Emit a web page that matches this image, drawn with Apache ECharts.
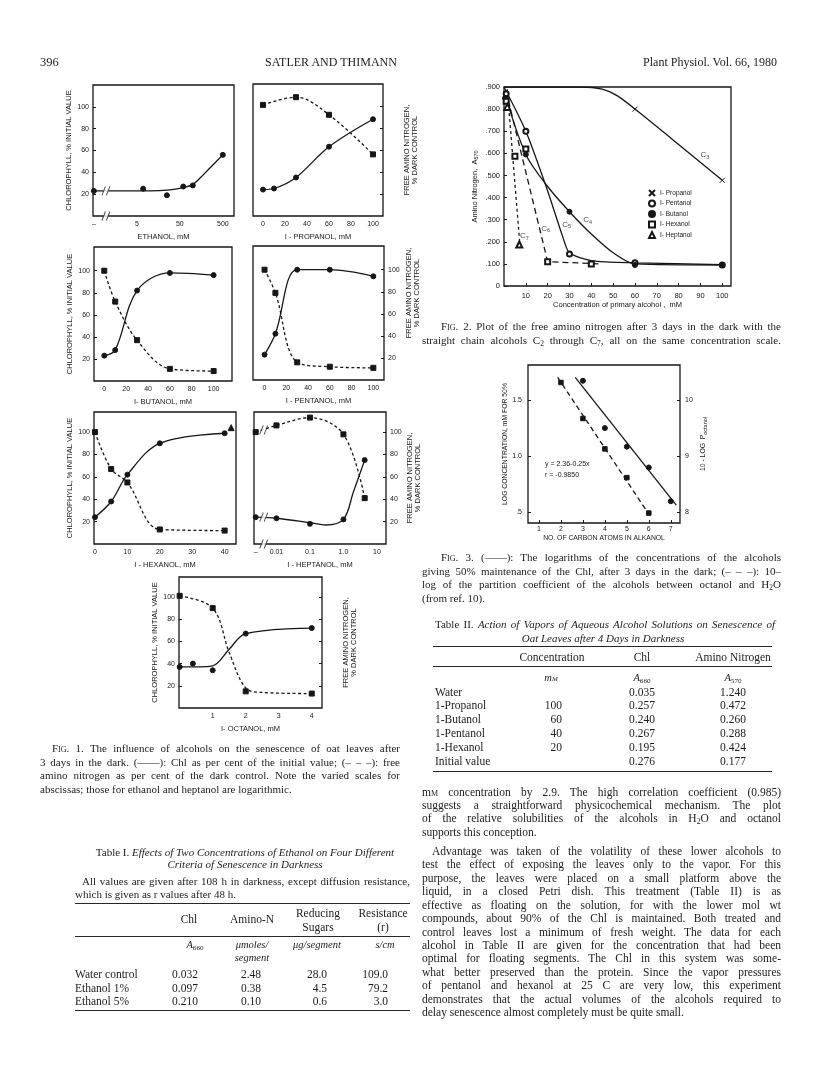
<!DOCTYPE html>
<html>
<head>
<meta charset="utf-8">
<script src="https://cdn.jsdelivr.net/npm/echarts@6.0.0/dist/echarts.min.js"></script>
<style>
html,body{margin:0;padding:0;background:#fff;}
#page{position:relative;width:816px;height:1073px;overflow:hidden;background:#fff;}
#chart{position:absolute;left:0;top:0;width:816px;height:1073px;}
.t{position:absolute;z-index:2;white-space:nowrap;font-family:"Liberation Serif","Times New Roman",Times,serif;color:#1b1b1b;line-height:16px;}
.t sub{font-size:68%;vertical-align:-2px;line-height:0;}
.sc{font-variant:small-caps;}
.rule{position:absolute;z-index:2;background:#262626;}
</style>
</head>
<body>
<div id="page"><div id="chart"></div></div>
<script>
// ================= DATA =================
// Fig. 1 — ethanol (log scale; 0 = control)
const ethanolTickConc = [0, 5, 50, 500];
const ethanolChlX = [0, 7, 25, 60, 100, 500];
const ethanolChlY = [23, 25, 19, 27, 28, 56];
const ethanolFitX = [0, 3, 10, 30, 60, 100, 150, 250, 500];
const ethanolFitY = [23, 23, 23, 24, 26, 29, 35, 44, 56];
// 1-propanol
const linTicks100 = [0, 20, 40, 60, 80, 100];
const propanolChlX = [0, 10, 30, 60, 100];
const propanolChlY = [24, 25, 35, 63, 88];
const propanolAmnX = [0, 30, 60, 100];
const propanolAmnY = [101, 108, 92, 56];
// 1-butanol
const butanolX = [0, 10, 30, 60, 100];
const butanolChlY = [23, 28, 82, 98, 96];
const butanolAmnY = [100, 72, 37, 11, 9];
// 1-pentanol
const pentanolX = [0, 10, 30, 60, 100];
const pentanolChlY = [23, 42, 100, 100, 94];
const pentanolAmnY = [100, 79, 16, 12, 11];
// 1-hexanol
const hexanolTicks = [0, 10, 20, 30, 40];
const hexanolX = [0, 5, 10, 20, 40];
const hexanolChlY = [24, 38, 62, 90, 99];
const hexanolAmnY = [100, 67, 55, 13, 12];
const hexanolTriX = [42];
const hexanolTriY = [104];
// 1-heptanol (log scale; 0 = control)
const heptanolTickConc = [0, 0.01, 0.1, 1, 10];
const heptanolTickText = ['–', '0.01', '0.1', '1.0', '10'];
const heptanolX = [0, 0.01, 0.1, 1, 4.3];
const heptanolChlY = [24, 23, 18, 22, 75];
const heptanolAmnY = [100, 106, 113, 98, 41];
const heptanolChlFitX = [0, 0.01, 0.1, 0.3, 1, 2, 4.3];
const heptanolChlFitY = [24, 23, 19, 17, 22, 47, 75];
// 1-octanol
const octanolTicks = [1, 2, 3, 4];
const octanolChlX = [0, 0.4, 1, 2, 4];
const octanolChlY = [37, 40, 34, 67, 72];
const octanolChlFitX = [0, 0.5, 1, 1.5, 2, 4];
const octanolChlFitY = [37, 37, 38, 53, 67, 72];
const octanolAmnX = [0, 1, 2, 4];
const octanolAmnY = [101, 90, 15, 13];
const octanolAmnFitX = [0, 1, 1.5, 2, 2.5, 4];
const octanolAmnFitY = [101, 90, 50, 18, 14, 13];
const pctTicks = [20, 40, 60, 80, 100];

// Fig. 2 — amino nitrogen A570 vs concentration
const fig2XTicks = [10, 20, 30, 40, 50, 60, 70, 80, 90, 100];
const fig2YTicks = [0, 0.1, 0.2, 0.3, 0.4, 0.5, 0.6, 0.7, 0.8, 0.9];
const propanolPts = [[60, 0.800], [100, 0.478]];
const propanolCurve = [[0, 0.9], [35, 0.9], [45, 0.89], [52, 0.86], [60, 0.80], [80, 0.64], [100, 0.478]];
const pentanolPts = [[1, 0.87], [10, 0.70], [30, 0.145], [60, 0.105], [100, 0.095]];
const pentanolCurve = [[0, 0.9], [10, 0.70], [20, 0.43], [27, 0.22], [30, 0.15], [40, 0.115], [60, 0.105], [100, 0.097]];
const butanolPts = [[0.5, 0.85], [10, 0.595], [30, 0.336], [60, 0.095], [100, 0.095]];
const butanolCurve = [[0, 0.88], [10, 0.595], [20, 0.45], [30, 0.336], [40, 0.235], [50, 0.15], [60, 0.10], [100, 0.095]];
const hexanolPts = [[1, 0.835], [5, 0.587], [10, 0.62], [20, 0.11], [40, 0.10]];
const hexanolCurve = [[1, 0.88], [20, 0.11], [44, 0.10]];
const heptanolPts = [[1.5, 0.81], [7, 0.188]];
const heptanolCurve = [[1.5, 0.89], [7.5, 0.16]];

// Fig. 3 — log concentration / 10 - log P vs carbon number
const fig3XTicks = [1, 2, 3, 4, 5, 6, 7];
const fig3LeftTicks = [0.5, 1.0, 1.5];
const fig3RightTicks = [8, 9, 10];
const logConcX = [3, 4, 5, 6, 7];
const logConcY = [1.67, 1.25, 1.085, 0.90, 0.60];
const logConcLine = [[2.65, 1.70], [7.25, 0.565]];
const logPX = [2, 3, 4, 5, 6];
const logPY = [10.31, 9.67, 9.13, 8.62, 7.99];
const logPLine = [[1.85, 10.40], [6.02, 7.96]];

// Table I
const t1Rows = ['Water control', 'Ethanol 1%', 'Ethanol 5%'];
const t1Chl = ['0.032', '0.097', '0.210'];
const t1AminoN = ['2.48', '0.38', '0.10'];
const t1Sugars = ['28.0', '4.5', '0.6'];
const t1Resist = ['109.0', '79.2', '3.0'];
// Table II
const t2Rows = ['Water', '1-Propanol', '1-Butanol', '1-Pentanol', '1-Hexanol', 'Initial value'];
const t2Conc = ['', '100', '60', '40', '20', ''];
const t2Chl = ['0.035', '0.257', '0.240', '0.267', '0.195', '0.276'];
const t2Amino = ['1.240', '0.472', '0.260', '0.288', '0.424', '0.177'];

// ================= CHART =================
const INK = '#161616';
const SANS = 'Liberation Sans';
const XPATH = 'path://M0,0L10,10M10,0L0,10';
const grids = [], xAxes = [], yAxes = [], series = [];
function ts(fs, extra) { return Object.assign({fontSize: fs, color: INK, fontFamily: SANS}, extra || {}); }
const zip = (xs, ys, f) => xs.map((x, i) => [f ? f(x) : x, ys[i]]);

function addPanel(p) {
  const gi = grids.length;
  grids.push({left: p.left, top: p.top, width: p.width, height: p.height, show: true,
    borderColor: INK, borderWidth: 1.3, backgroundColor: 'transparent'});
  xAxes.push({gridIndex: gi, type: 'value', min: p.xmin, max: p.xmax,
    splitLine: {show: false}, axisLine: {show: false, onZero: false},
    axisTick: {show: !!p.xTickMarks, inside: true, length: 3, customValues: p.xTicks, lineStyle: {color: INK}},
    axisLabel: Object.assign({show: true, customValues: p.xTicks, formatter: p.xFmt, margin: p.xMargin != null ? p.xMargin : 5}, ts(p.tfs || 7)),
    name: p.xName || '', nameLocation: 'middle', nameGap: p.xNameGap || 17, nameTextStyle: ts(p.nfs || 7.5)});
  const yl = yAxes.length;
  const base = {gridIndex: gi, type: 'value', min: p.ymin, max: p.ymax, splitLine: {show: false}, axisLine: {show: false, onZero: false}};
  yAxes.push(Object.assign({}, base, {position: 'left',
    axisTick: {show: !!p.lTicks, inside: true, length: 3, customValues: p.yTicks, lineStyle: {color: INK}},
    axisLabel: Object.assign({show: !!p.lLabels, customValues: p.yTicks, formatter: p.yFmt, margin: p.yMargin || 4}, ts(p.tfs || 7)),
    name: p.lName || '', nameLocation: 'middle', nameRotate: 90, nameGap: p.lNameGap || 17, nameTextStyle: ts(p.nfs || 7.5, p.lNameStyle)}));
  yAxes.push(Object.assign({}, base, {position: 'right',
    axisTick: {show: !!p.rTicks, inside: true, length: 3, customValues: p.yTicksR || p.yTicks, lineStyle: {color: INK}},
    axisLabel: Object.assign({show: !!p.rLabels, customValues: p.yTicksR || p.yTicks, formatter: p.yFmtR, margin: p.yMarginR || 4}, ts(p.tfs || 7)),
    name: p.rName || '', nameLocation: 'middle', nameRotate: 90, nameGap: p.rNameGap || 18, nameTextStyle: ts(p.nfs || 7.5, p.rNameStyle)},
    p.ymaxR != null ? {min: p.yminR, max: p.ymaxR} : {}));
  return {x: gi, yl: yl, yr: yl + 1};
}
function curve(ax, yi, data, dash, smooth) {
  series.push({type: 'line', xAxisIndex: ax.x, yAxisIndex: yi, data: data, symbol: 'none',
    smooth: smooth == null ? 0.35 : smooth, silent: true, z: 2,
    lineStyle: {color: INK, width: 1.3, type: dash || 'solid'}});
}
function dots(ax, yi, data, symbol, size, name) {
  series.push({type: 'scatter', name: name, xAxisIndex: ax.x, yAxisIndex: yi, data: data, symbol: symbol,
    symbolSize: size || 5, silent: true, z: 3,
    itemStyle: {color: INK, borderColor: INK, borderWidth: 1, opacity: 1}});
}
function breaks(ax, yi, data) {
  series.push({type: 'scatter', xAxisIndex: ax.x, yAxisIndex: yi, data: data, symbol: 'rect', symbolSize: [5, 9],
    silent: true, z: 5, itemStyle: {color: '#fff'}});
  series.push({type: 'scatter', xAxisIndex: ax.x, yAxisIndex: yi, data: data, symbol: 'path://M0,12L4,0M5,12L9,0',
    symbolSize: [8, 9], silent: true, z: 6, itemStyle: {color: 'transparent', borderColor: INK, borderWidth: 1}});
}
const DASH1 = [3, 2.5];
const CHL = 'CHLOROPHYLL, % INITIAL VALUE';
const AMN = 'FREE AMINO NITROGEN,\n% DARK CONTROL';

// --- Fig. 1 panels ---
const posE = c => c === 0 ? -1 : Math.log10(c / 5);
const pA = addPanel({left: 93, top: 85, width: 141, height: 131, xmin: -1.02, xmax: 2.26,
  xTicks: ethanolTickConc.map(posE), xFmt: v => { const i = ethanolTickConc.findIndex(c => Math.abs(posE(c) - v) < 1e-6); return i < 0 ? '' : (ethanolTickConc[i] === 0 ? '–' : String(ethanolTickConc[i])); },
  xName: 'ETHANOL, mM', ymin: 0, ymax: 120, yTicks: pctTicks, lTicks: true, lLabels: true, lName: CHL, lNameGap: 17});
curve(pA, pA.yl, zip(ethanolFitX, ethanolFitY, posE), 'solid', 0.4);
dots(pA, pA.yl, zip(ethanolChlX, ethanolChlY, posE), 'circle', 5);
breaks(pA, pA.yl, [[-0.72, 23], [-0.72, 0]]);

const pB = addPanel({left: 253, top: 84, width: 130, height: 132, xmin: -9.1, xmax: 109.1, xTicks: linTicks100,
  xName: 'I - PROPANOL, mM', ymin: 0, ymax: 120, yTicks: pctTicks, rTicks: true, rLabels: false, rName: AMN, rNameGap: 20});
curve(pB, pB.yl, zip(propanolChlX, propanolChlY));
dots(pB, pB.yl, zip(propanolChlX, propanolChlY), 'circle', 5);
curve(pB, pB.yl, zip(propanolAmnX, propanolAmnY), DASH1);
dots(pB, pB.yl, zip(propanolAmnX, propanolAmnY), 'rect', 5);

const pC = addPanel({left: 94, top: 247, width: 138, height: 134, xmin: -9.4, xmax: 116.8, xTicks: linTicks100,
  xName: 'I- BUTANOL, mM', ymin: 0, ymax: 121.5, yTicks: pctTicks, lTicks: true, lLabels: true, lName: CHL, lNameGap: 18});
curve(pC, pC.yl, zip(butanolX, butanolChlY));
dots(pC, pC.yl, zip(butanolX, butanolChlY), 'circle', 5);
curve(pC, pC.yl, zip(butanolX, butanolAmnY), DASH1);
dots(pC, pC.yl, zip(butanolX, butanolAmnY), 'rect', 5);

const pD = addPanel({left: 253, top: 246, width: 131, height: 134, xmin: -10.6, xmax: 109.8, xTicks: linTicks100,
  xName: 'I - PENTANOL, mM', ymin: 0, ymax: 121.5, yTicks: pctTicks, rTicks: true, rLabels: true, rName: AMN, rNameGap: 21,
  rNameStyle: {padding: [0, 0, 0, 40]}});
curve(pD, pD.yl, zip(pentanolX, pentanolChlY));
dots(pD, pD.yl, zip(pentanolX, pentanolChlY), 'circle', 5);
curve(pD, pD.yl, zip(pentanolX, pentanolAmnY), DASH1);
dots(pD, pD.yl, zip(pentanolX, pentanolAmnY), 'rect', 5);

const pE = addPanel({left: 94, top: 412, width: 142, height: 132, xmin: -0.3, xmax: 43.5, xTicks: hexanolTicks,
  xName: 'I - HEXANOL, mM', ymin: 0, ymax: 118, yTicks: pctTicks, lTicks: true, lLabels: true, lName: CHL, lNameGap: 18});
curve(pE, pE.yl, zip(hexanolX, hexanolChlY));
dots(pE, pE.yl, zip(hexanolX, hexanolChlY), 'circle', 5);
curve(pE, pE.yl, zip(hexanolX, hexanolAmnY), DASH1);
dots(pE, pE.yl, zip(hexanolX, hexanolAmnY), 'rect', 5);
dots(pE, pE.yl, zip(hexanolTriX, hexanolTriY), 'triangle', 6);

const posH = c => c === 0 ? -0.62 : Math.log10(c / 0.01);
const pF = addPanel({left: 254, top: 412, width: 132, height: 132, xmin: -0.67, xmax: 3.27,
  xTicks: heptanolTickConc.map(posH), xFmt: v => { const i = heptanolTickConc.findIndex(c => Math.abs(posH(c) - v) < 1e-6); return i < 0 ? '' : heptanolTickText[i]; },
  xName: 'I - HEPTANOL, mM', ymin: 0, ymax: 118, yTicks: pctTicks, rTicks: true, rLabels: true, rName: AMN, rNameGap: 15});
curve(pF, pF.yl, zip(heptanolChlFitX, heptanolChlFitY, posH), 'solid', 0.35);
dots(pF, pF.yl, zip(heptanolX, heptanolChlY, posH), 'circle', 5);
curve(pF, pF.yl, zip(heptanolX, heptanolAmnY, posH), DASH1);
dots(pF, pF.yl, zip(heptanolX, heptanolAmnY, posH), 'rect', 5);
breaks(pF, pF.yl, [[-0.38, 24], [-0.38, 102], [-0.38, 0]]);

const pG = addPanel({left: 179, top: 577, width: 143, height: 131, xmin: -0.02, xmax: 4.31, xTicks: octanolTicks,
  xName: 'I- OCTANOL, mM', ymin: 0, ymax: 118, yTicks: pctTicks, lTicks: true, lLabels: true, lName: CHL, lNameGap: 19,
  rTicks: true, rLabels: false, rName: AMN, rNameGap: 20});
curve(pG, pG.yl, zip(octanolChlFitX, octanolChlFitY));
dots(pG, pG.yl, zip(octanolChlX, octanolChlY), 'circle', 5);
curve(pG, pG.yl, zip(octanolAmnFitX, octanolAmnFitY), DASH1);
dots(pG, pG.yl, zip(octanolAmnX, octanolAmnY), 'rect', 5);

// --- Fig. 2 ---
const p2 = addPanel({left: 504, top: 87, width: 227, height: 199, xmin: 0, xmax: 104, xTicks: fig2XTicks, xTickMarks: true,
  xName: 'Concentration of primary alcohol ,  mM', xNameGap: 15, nfs: 7.5, tfs: 7.5, xMargin: 6,
  ymin: 0, ymax: 0.9, yTicks: fig2YTicks, lTicks: true, lLabels: true, yMargin: 4,
  yFmt: v => v === 0 ? '0' : '.' + String(Math.round(v * 1000)).padStart(3, '0'),
  lName: 'Amino Nitrogen,  A{s|570}', lNameGap: 25,
  lNameStyle: {rich: {s: {fontSize: 5.5, fontFamily: SANS, color: INK, verticalAlign: 'bottom', padding: [3, 0, 0, 0]}}}});
curve(p2, p2.yl, propanolCurve, 'solid', 0.3);
curve(p2, p2.yl, butanolCurve, 'solid', 0.3);
curve(p2, p2.yl, pentanolCurve, 'solid', 0.25);
curve(p2, p2.yl, hexanolCurve, [6, 4], 0);
curve(p2, p2.yl, heptanolCurve, [3, 3], 0);
dots(p2, p2.yl, propanolPts, XPATH, 5, 'I- Propanol');
dots(p2, p2.yl, pentanolPts, 'emptyCircle', 5, 'I- Pentanol');
dots(p2, p2.yl, butanolPts, 'circle', 5, 'I- Butanol');
dots(p2, p2.yl, hexanolPts, 'emptyRect', 5, 'I- Hexanol');
dots(p2, p2.yl, heptanolPts, 'emptyTriangle', 6, 'I- Heptanol');
series.push({type: 'scatter', xAxisIndex: p2.x, yAxisIndex: p2.yl, symbolSize: 1, silent: true, z: 4,
  itemStyle: {color: 'transparent'},
  label: {show: true, position: 'inside', formatter: p => 'C{s|' + p.data[2] + '}', fontSize: 8, fontFamily: SANS, color: INK,
    rich: {s: {fontSize: 5.5, fontFamily: SANS, color: INK, verticalAlign: 'bottom', padding: [4, 0, 0, 0]}}},
  data: [[92, 0.592, '3'], [38.3, 0.298, '4'], [28.7, 0.276, '5'], [19.1, 0.258, '6'], [9.3, 0.226, '7']]});

// --- Fig. 3 ---
const p3 = addPanel({left: 528, top: 365, width: 152, height: 158, xmin: 0.5, xmax: 7.42, xTicks: fig3XTicks, xTickMarks: true,
  xName: 'NO. OF CARBON ATOMS IN ALKANOL', xNameGap: 12, nfs: 6.8, tfs: 7, xMargin: 3,
  ymin: 0.407, ymax: 1.81, yTicks: fig3LeftTicks, lTicks: true, lLabels: true, yMargin: 6,
  yFmt: v => v === 0.5 ? '.5' : v.toFixed(1),
  lName: 'LOG CONCENTRATION, mM FOR 50%', lNameGap: 17,
  yminR: 7.814, ymaxR: 10.62, yTicksR: fig3RightTicks, rTicks: true, rLabels: true, yMarginR: 5,
  rName: '10 - LOG  P{s|octanol}', rNameGap: 19,
  rNameStyle: {rich: {s: {fontSize: 5.5, fontFamily: SANS, color: INK, verticalAlign: 'bottom', padding: [3, 0, 0, 0]}}}});
curve(p3, p3.yl, logConcLine, 'solid', 0);
dots(p3, p3.yl, zip(logConcX, logConcY), 'circle', 5);
curve(p3, p3.yr, logPLine, [5, 3.5], 0);
dots(p3, p3.yr, zip(logPX, logPY), 'rect', 4.5);

const option = {
  animation: false,
  textStyle: {fontFamily: SANS, color: INK},
  grid: grids, xAxis: xAxes, yAxis: yAxes, series: series,
  legend: {orient: 'vertical', left: 643, top: 184, itemWidth: 6, itemHeight: 6, itemGap: 2.5, selectedMode: false,
    textStyle: ts(6.5),
    data: [{name: 'I- Propanol', icon: XPATH}, {name: 'I- Pentanol', icon: 'emptyCircle'}, {name: 'I- Butanol', icon: 'circle'},
      {name: 'I- Hexanol', icon: 'emptyRect'}, {name: 'I- Heptanol', icon: 'emptyTriangle'}]},
  graphic: [
    {type: 'text', left: 545, top: 461, style: {text: 'y = 2.36-0.25x', fontSize: 7, fontFamily: SANS, fill: INK}},
    {type: 'text', left: 545, top: 472, style: {text: 'r = -0.9850', fontSize: 7, fontFamily: SANS, fill: INK}}
  ]
};
const chart = echarts.init(document.getElementById('chart'), null, {renderer: 'canvas', width: 816, height: 1073});
chart.setOption(option);

// ================= TEXT =================
const SC = s => '<span class="sc">' + s + '</span>';
const TXT = [
  {x: 40, y: 62, h: '396', a: 'l', fs: 12.5},
  {x: 331, y: 62, h: 'SATLER AND THIMANN', a: 'c', fs: 12},
  {x: 777, y: 62, h: 'Plant Physiol. Vol. 66, 1980', a: 'r', fs: 12},
  // Fig 1 caption
  {x: 52, y: 748, w: 348, h: SC('Fig.') + ' 1. The influence of alcohols on the senescence of oat leaves after', a: 'j', fs: 11},
  {x: 40, y: 761.5, w: 360, h: '3 days in the dark. (——): Chl as per cent of the initial value; (– – –): free', a: 'j', fs: 11},
  {x: 40, y: 775, w: 360, h: 'amino nitrogen as per cent of the dark control. Note the varied scales for', a: 'j', fs: 11},
  {x: 40, y: 788.5, h: 'abscissas; those for ethanol and heptanol are logarithmic.', a: 'l', fs: 11},
  // Fig 2 caption
  {x: 441, y: 326, w: 340, h: SC('Fig.') + ' 2. Plot of the free amino nitrogen after 3 days in the dark with the', a: 'j', fs: 11},
  {x: 422, y: 339.5, w: 359, h: 'straight chain alcohols C<sub>2</sub> through C<sub>7</sub>, all on the same concentration scale.', a: 'j', fs: 11},
  // Fig 3 caption
  {x: 441, y: 557, w: 340, h: SC('Fig.') + ' 3. (——): The logarithms of the concentrations of the alcohols', a: 'j', fs: 11},
  {x: 422, y: 570.5, w: 359, h: 'giving 50% maintenance of the Chl, after 3 days in the dark; (– – –): 10–', a: 'j', fs: 11},
  {x: 422, y: 584, w: 359, h: 'log of the partition coefficient of the alcohols between octanol and H<sub>2</sub>O', a: 'j', fs: 11},
  {x: 422, y: 597.5, h: '(from ref. 10).', a: 'l', fs: 11},
  // Table II title & headers
  {x: 435, y: 624, w: 340, h: 'Table II. <i>Action of Vapors of Aqueous Alcohol Solutions on Senescence of</i>', a: 'j', fs: 11},
  {x: 603, y: 638, h: '<i>Oat Leaves after 4 Days in Darkness</i>', a: 'c', fs: 11},
  {x: 552, y: 656.5, h: 'Concentration', a: 'c', fs: 11.5},
  {x: 642, y: 656.5, h: 'Chl', a: 'c', fs: 11.5},
  {x: 733, y: 656.5, h: 'Amino Nitrogen', a: 'c', fs: 11.5},
  {x: 551, y: 678, h: '<i>m' + SC('m') + '</i>', a: 'c', fs: 10.5},
  {x: 642, y: 678, h: '<i>A</i><sub>660</sub>', a: 'c', fs: 10.5},
  {x: 733, y: 678, h: '<i>A</i><sub>570</sub>', a: 'c', fs: 10.5},
  // Table I title & headers
  {x: 245, y: 852, h: 'Table I. <i>Effects of Two Concentrations of Ethanol on Four Different</i>', a: 'c', fs: 11},
  {x: 245, y: 864, h: '<i>Criteria of Senescence in Darkness</i>', a: 'c', fs: 11},
  {x: 82, y: 880.5, w: 328, h: 'All values are given after 108 h in darkness, except diffusion resistance,', a: 'j', fs: 11},
  {x: 75, y: 893.5, h: 'which is given as r values after 48 h.', a: 'l', fs: 11},
  {x: 189, y: 919, h: 'Chl', a: 'c', fs: 11.5},
  {x: 252, y: 919, h: 'Amino-N', a: 'c', fs: 11.5},
  {x: 318, y: 912.5, h: 'Reducing', a: 'c', fs: 11.5},
  {x: 318, y: 926.5, h: 'Sugars', a: 'c', fs: 11.5},
  {x: 383, y: 912.5, h: 'Resistance', a: 'c', fs: 11.5},
  {x: 383, y: 926.5, h: '(r)', a: 'c', fs: 11.5},
  {x: 195, y: 945, h: '<i>A</i><sub>660</sub>', a: 'c', fs: 10.5},
  {x: 252, y: 945, h: '<i>μmoles/</i>', a: 'c', fs: 10.5},
  {x: 252, y: 958, h: '<i>segment</i>', a: 'c', fs: 10.5},
  {x: 317, y: 945, h: '<i>μg/segment</i>', a: 'c', fs: 10.5},
  {x: 385, y: 945, h: '<i>s/cm</i>', a: 'c', fs: 10.5}
];
// table rows
t2Rows.forEach((r, i) => {
  const y = 691.5 + i * 13.9;
  TXT.push({x: 435, y, h: r, a: 'l', fs: 11.5});
  if (t2Conc[i]) TXT.push({x: 562, y, h: t2Conc[i], a: 'r', fs: 11.5});
  TXT.push({x: 642, y, h: t2Chl[i], a: 'c', fs: 11.5});
  TXT.push({x: 733, y, h: t2Amino[i], a: 'c', fs: 11.5});
});
t1Rows.forEach((r, i) => {
  const y = 974.3 + i * 13.4;
  TXT.push({x: 75, y, h: r, a: 'l', fs: 11.5});
  TXT.push({x: 172, y, h: t1Chl[i], a: 'l', fs: 11.5});
  TXT.push({x: 251, y, h: t1AminoN[i], a: 'c', fs: 11.5});
  TXT.push({x: 327, y, h: t1Sugars[i], a: 'r', fs: 11.5});
  TXT.push({x: 388, y, h: t1Resist[i], a: 'r', fs: 11.5});
});
// body text (right column)
const body = [
  ['m' + SC('m') + ' concentration by 2.9. The high correlation coefficient (0.985)', 'j'],
  ['suggests a straightforward physicochemical mechanism. The plot', 'j'],
  ['of the relative solubilities of the alcohols in H<sub>2</sub>O and octanol', 'j'],
  ['supports this conception.', 'l'],
  ['Advantage was taken of the volatility of these lower alcohols to', 'j', 10],
  ['test the effect of exposing the leaves only to the vapor. For this', 'j'],
  ['purpose, the leaves were placed on a small platform above the', 'j'],
  ['liquid, in a closed Petri dish. This treatment (Table II) is as', 'j'],
  ['effective as floating on the solution, for with the lower mol wt', 'j'],
  ['compounds, about 90% of the Chl is maintained. Both treated and', 'j'],
  ['control leaves lost a minimum of fresh weight. The data for each', 'j'],
  ['alcohol in Table II are given for the concentration that had been', 'j'],
  ['optimal for floating segments. The Chl in this system was some-', 'j'],
  ['what better preserved than the protein. Since the vapor pressures', 'j'],
  ['of pentanol and hexanol at 25 C are very low, this experiment', 'j'],
  ['demonstrates that the actual volumes of the alcohols required to', 'j'],
  ['delay senescence almost completely must be quite small.', 'l']
];
body.forEach((b, i) => {
  const y = 791.5 + i * 13.45 + (i >= 4 ? 5.5 : 0);
  const ind = b[2] || 0;
  TXT.push({x: 422 + ind, y, w: 359 - ind, h: b[0], a: b[1], fs: 11.5});
});

const page = document.getElementById('page');
TXT.forEach(t => {
  const d = document.createElement('div');
  d.className = 't';
  d.style.fontSize = (t.fs || 11.5) + 'px';
  d.style.top = (t.y - 8) + 'px';
  const s = document.createElement('span');
  s.innerHTML = t.h;
  d.appendChild(s);
  if (t.a === 'c') { d.style.left = (t.x - 300) + 'px'; d.style.width = '600px'; d.style.textAlign = 'center'; }
  else if (t.a === 'r') { d.style.left = (t.x - 600) + 'px'; d.style.width = '600px'; d.style.textAlign = 'right'; }
  else { d.style.left = t.x + 'px'; }
  page.appendChild(d);
  if (t.a === 'j') {
    const w = s.getBoundingClientRect().width;
    const n = (s.textContent.match(/ /g) || []).length;
    if (n) s.style.wordSpacing = ((t.w - w) / n) + 'px';
  }
});
// table rules
[[433, 646, 339, 1.4], [433, 666, 339, 0.8], [433, 771, 339, 1.4],
 [75, 902.5, 335, 1.4], [75, 936, 335, 0.8], [75, 1010, 335, 1.4]].forEach(r => {
  const d = document.createElement('div');
  d.className = 'rule';
  d.style.left = r[0] + 'px'; d.style.top = r[1] + 'px'; d.style.width = r[2] + 'px'; d.style.height = r[3] + 'px';
  page.appendChild(d);
});
</script>
</body>
</html>
